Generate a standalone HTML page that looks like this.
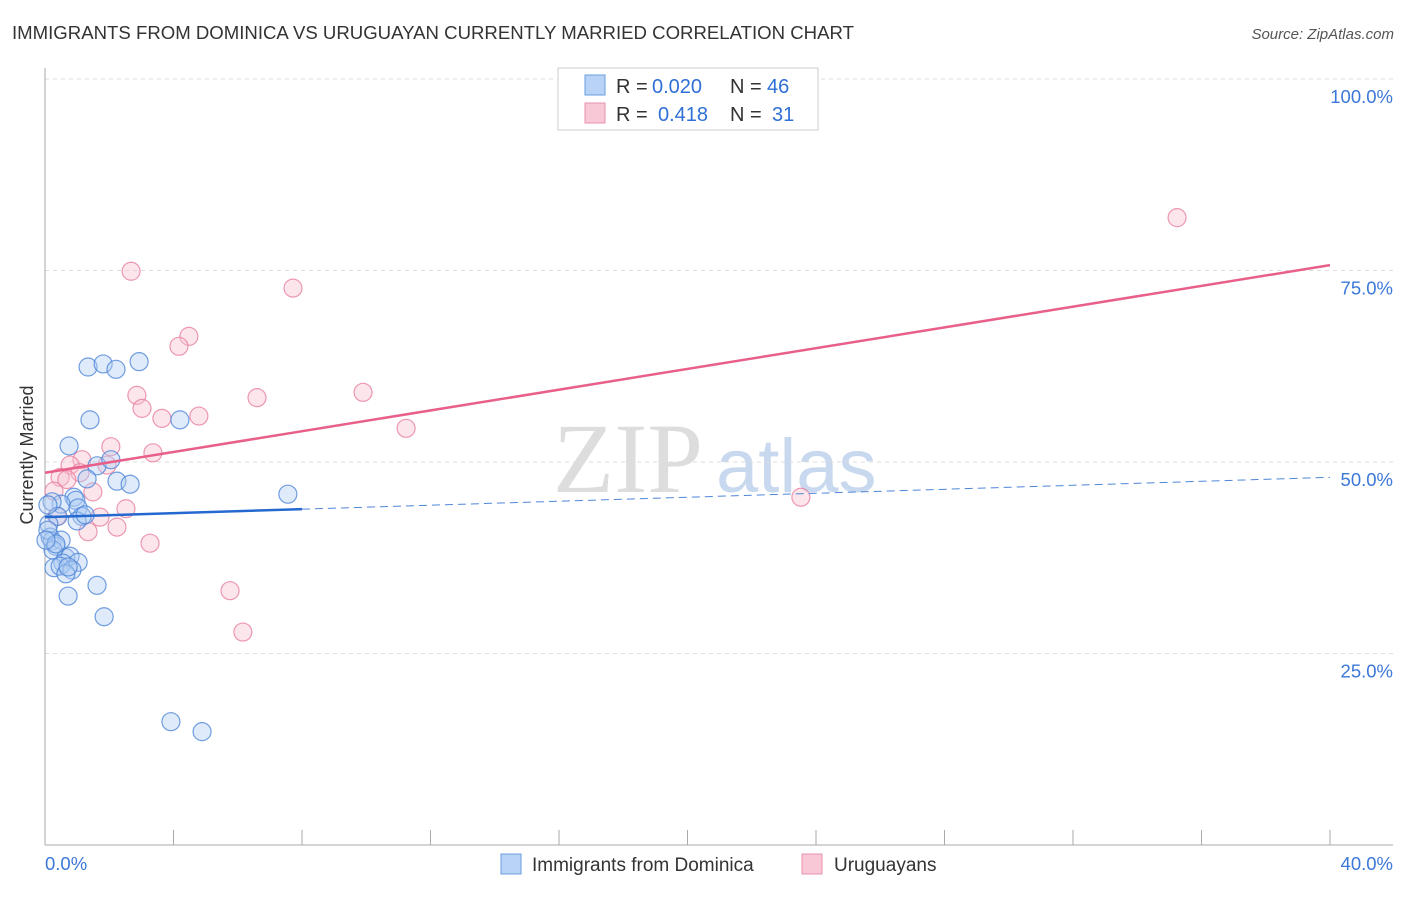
<!DOCTYPE html>
<html><head><meta charset="utf-8"><style>
body{margin:0;background:#fff;font-family:"Liberation Sans",sans-serif;}
</style></head><body>
<svg id="chart" width="1406" height="892" xmlns="http://www.w3.org/2000/svg">
<text x="12" y="39" font-size="18.6" fill="#333">IMMIGRANTS FROM DOMINICA VS URUGUAYAN CURRENTLY MARRIED CORRELATION CHART</text>
<text x="1394" y="39" font-size="15" fill="#555" text-anchor="end" font-style="italic">Source: ZipAtlas.com</text>
<text x="553" y="492" font-size="100" fill="#ddd" font-family="Liberation Serif,serif">ZIP</text>
<text x="716" y="492" font-size="76" fill="#c8d8ee">atlas</text>
<text transform="translate(33,455) rotate(-90)" font-size="18" fill="#333" text-anchor="middle">Currently Married</text>
<g id="grid"></g><g id="marks"></g>
<g>
<rect x="558" y="68" width="260" height="62" fill="#fff" stroke="#ccc"/>
<rect x="585" y="75" width="20" height="20" fill="#b8d3f5" stroke="#6a9de0"/>
<rect x="585" y="103" width="20" height="20" fill="#f8c8d6" stroke="#e890aa"/>
<text y="93" font-size="20" fill="#333"><tspan x="616">R =</tspan><tspan x="652" fill="#2f6fd6">0.020</tspan><tspan x="730">N =</tspan><tspan x="767" fill="#2f6fd6">46</tspan></text>
<text y="121" font-size="20" fill="#333"><tspan x="616">R =</tspan><tspan x="658" fill="#2f6fd6">0.418</tspan><tspan x="730">N =</tspan><tspan x="772" fill="#2f6fd6">31</tspan></text>
</g>
<g>
<rect x="501" y="854" width="20" height="20" fill="#b8d3f5" stroke="#6a9de0"/>
<text x="532" y="871" font-size="19" fill="#333">Immigrants from Dominica</text>
<rect x="802" y="854" width="20" height="20" fill="#f8c8d6" stroke="#e890aa"/>
<text x="834" y="871" font-size="19" fill="#333">Uruguayans</text>
</g>
</svg>
<script>
const yTicks=[25,50,75,100];
const yTickLabels=["25.0%","50.0%","75.0%","100.0%"];
const blueX=[1.34,1.81,2.21,2.93,1.40,4.20,0.75,1.62,2.05,2.24,2.65,1.31,7.56,0.90,0.96,0.50,0.22,1.03,1.15,0.40,1.00,0.12,0.16,0.22,0.34,0.50,0.25,0.65,0.78,0.56,1.03,0.28,0.47,0.84,0.65,1.62,0.72,1.84,3.92,4.89,0.09,0.34,0.72,1.25,0.09,0.03];
const blueY=[62.4,62.8,62.1,63.1,55.5,55.5,52.1,49.5,50.3,47.5,47.1,47.8,45.8,45.4,45.0,44.5,44.8,44.0,42.9,42.9,42.3,41.9,40.2,39.7,39.0,39.8,38.5,37.5,37.7,36.8,36.9,36.2,36.4,35.9,35.4,33.9,32.5,29.8,16.1,14.8,41.1,39.3,36.3,43.1,44.4,39.8];
const pinkX=[2.68,7.72,4.48,4.17,2.86,6.60,9.90,3.02,3.64,4.79,11.24,2.05,3.36,1.15,0.78,1.93,1.09,0.47,0.68,1.49,0.28,23.53,2.52,1.71,0.37,2.24,1.34,3.27,5.76,6.16,35.24];
const pinkY=[74.9,72.7,66.4,65.1,58.7,58.4,59.1,57.0,55.7,56.0,54.4,52.0,51.2,50.3,49.6,49.6,48.6,48.0,47.7,46.1,46.2,45.4,43.9,42.8,42.9,41.5,40.9,39.4,33.2,27.8,81.9];
const pinkTrend=[48.6,75.7];
const blueTrend=[42.8,48.0];
const blueSolidEnd=8;
const NS="http://www.w3.org/2000/svg";
const sx=v=>45+v/40*1285, sy=v=>845-v/100*766;
function mk(t,a,p){const e=document.createElementNS(NS,t);for(const k in a)e.setAttribute(k,a[k]);p.appendChild(e);return e;}
const g=document.getElementById('grid'), m=document.getElementById('marks');
yTicks.forEach((t,i)=>{
 const l=mk('line',{x1:45,x2:1393,y1:sy(t),y2:sy(t),stroke:'#ddd','stroke-dasharray':'4,4'},g);
 
 
 const tx=mk('text',{x:1393,y:sy(t)+24,'font-size':18.5,fill:'#3b78d8','text-anchor':'end'},g);
 tx.textContent=yTickLabels[i];
 
 
});
mk('line',{x1:45,x2:45,y1:68,y2:845,stroke:'#aaa'},g);
mk('line',{x1:45,x2:1393,y1:845,y2:845,stroke:'#aaa'},g);
for(let i=0;i<=10;i++){const x=sx(i*4);const tk=mk('line',{x1:x,x2:x,y1:830,y2:845,stroke:'#aaa'},g);
 
 }
const xl=mk('text',{x:45,y:870,'font-size':18.5,fill:'#3b78d8'},g);xl.textContent='0.0%';


const xr=mk('text',{x:1393,y:870,'font-size':18.5,fill:'#3b78d8','text-anchor':'end'},g);xr.textContent='40.0%';


function pts(X,Y,f,s,name){X.forEach((x,i)=>{const c=mk('circle',{cx:sx(x),cy:sy(Y[i]),r:9,fill:f,'fill-opacity':0.4,stroke:s,'stroke-width':1.2,'stroke-opacity':0.8},m);
 
 });}
pts(pinkX,pinkY,'#f8c0d0','#e8809f','uruguayans-point');
pts(blueX,blueY,'#b0cdf2','#4f86d8','dominica-point');
const bAt=x=>blueTrend[0]+(blueTrend[1]-blueTrend[0])*x/40;
const bd=mk('line',{x1:sx(blueSolidEnd),y1:sy(bAt(blueSolidEnd)),x2:sx(40),y2:sy(bAt(40)),stroke:'#4f86d8','stroke-width':1,'stroke-dasharray':'8,5'},m);


const bs=mk('line',{x1:sx(0),y1:sy(bAt(0)),x2:sx(blueSolidEnd),y2:sy(bAt(blueSolidEnd)),stroke:'#2468d0','stroke-width':2.5},m);


const pl=mk('line',{x1:sx(0),y1:sy(pinkTrend[0]),x2:sx(40),y2:sy(pinkTrend[1]),stroke:'#e8608a','stroke-width':2.5},m);


</script>
</body></html>
